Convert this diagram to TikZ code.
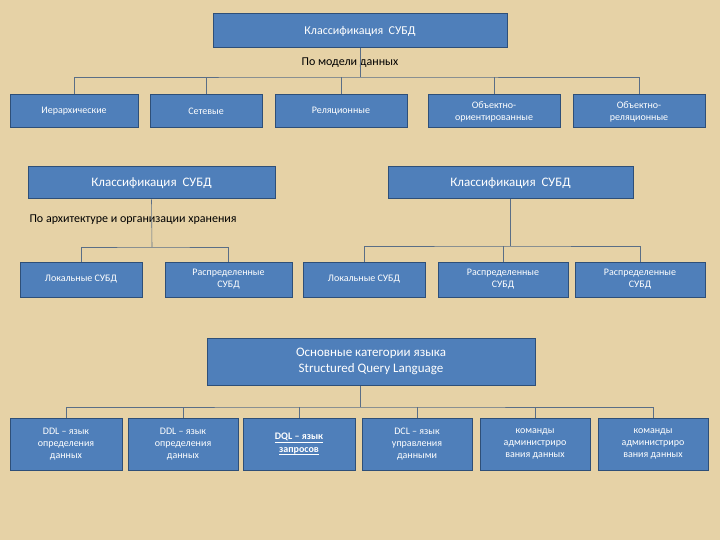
\documentclass[tikz,border=0pt]{standalone}
\usepackage{fontspec}
\setmainfont{Carlito}
\definecolor{bg}{HTML}{E6D2A6}
\definecolor{bx}{HTML}{4F7FBA}
\definecolor{bd}{HTML}{2E4F78}
\definecolor{ln}{HTML}{5A6E86}
\begin{document}
\begin{tikzpicture}[x=1pt,y=-1pt,
 bxs/.style={draw=bd,line width=1pt,fill=bx,text=white,align=center,inner sep=0pt,font=\fontsize{10}{12}\selectfont},
 big/.style={bxs,font=\fontsize{13}{15}\selectfont},
 con/.style={draw=ln,line width=0.6pt}]
\fill[bg] (0,0) rectangle (720,540);
\useasboundingbox (0,0) rectangle (720,540);
\newcommand\bxat[6]{\node[#6,minimum width=#3-#2,minimum height=#5-#4] (#1) at ({(#2+#3)/2},{(#4+#5)/2}) {};}
% top
\node[bxs,minimum width=294,minimum height=34,font=\fontsize{12}{14}\selectfont] (t) at (360,31) {Классификация\ \ СУБД};
\node[font=\fontsize{12}{14}\selectfont] (l1) at (350,63) {По модели данных};
\node[bxs,minimum width=128,minimum height=33] (a1) at (74,111.5) {Иерархические};
\node[bxs,minimum width=112,minimum height=33] (a2) at (206,111.5) {Сетевые};
\node[bxs,minimum width=132,minimum height=33] (a3) at (341,111.5) {Реляционные};
\node[bxs,minimum width=132,minimum height=33] (a4) at (494,111.5) {Объектно-\\ориентированные};
\node[bxs,minimum width=132,minimum height=33] (a5) at (639,111.5) {Объектно-\\реляционные};
\coordinate (h1) at (360,77);
\draw[con] (t.south) -- (h1);
\draw[con] (a1.north) |- (h1) -| (a5.north);
\foreach \n in {a2,a3,a4} \draw[con] (\n.north) -- (\n.north |- h1);
% row2
\node[big,minimum width=247,minimum height=32] (b) at (151.5,183) {Классификация\ \ СУБД};
\node[big,minimum width=245,minimum height=32] (c) at (510.5,183) {Классификация\ \ СУБД};
\node[font=\fontsize{12}{14}\selectfont,anchor=west] (l2) at (26,220) {По архитектуре и организации хранения};
\node[bxs,minimum width=122,minimum height=35] (b1) at (81,279.5) {Локальные СУБД};
\node[bxs,minimum width=127,minimum height=35] (b2) at (228.5,279.5) {Распределенные\\СУБД};
\node[bxs,minimum width=122,minimum height=35] (c1) at (364,279.5) {Локальные СУБД};
\node[bxs,minimum width=130,minimum height=35] (c2) at (503,279.5) {Распределенные\\СУБД};
\node[bxs,minimum width=130,minimum height=35] (c3) at (640,279.5) {Распределенные\\СУБД};
\coordinate (h2) at (152,247);
\draw[con] (b.south) -- (h2);
\draw[con] (b1.north) |- (h2) -| (b2.north);
\coordinate (h3) at (503,246);
\draw[con] (c.south) -- (c.south |- h3);
\draw[con] (c1.north) |- (h3) -| (c3.north);
\draw[con] (c2.north) -- (c2.north |- h3);
% row3
\node[bxs,minimum width=328,minimum height=47,font=\fontsize{13}{16}\selectfont] (d) at (371,361.5) {Основные категории языка\\Structured Query Language};
\node[bxs,minimum width=112,minimum height=52] (d1) at (66,444) {DDL – язык\\определения\\данных};
\node[bxs,minimum width=110,minimum height=52] (d2) at (183,444) {DDL – язык\\определения\\данных};
\node[bxs,minimum width=112,minimum height=52] (d3) at (299,444) {\textbf{\underline{DQL – язык}}\\[1pt]\textbf{\underline{\smash{запросов}}}};
\node[bxs,minimum width=110,minimum height=52] (d4) at (417,444) {DCL – язык\\управления\\данными};
\node[bxs,minimum width=110,minimum height=52] (d5) at (535,444) {команды\\администриро\\вания данных};
\node[bxs,minimum width=110,minimum height=52] (d6) at (653,444) {команды\\администриро\\вания данных};
\coordinate (h4) at (360,407);
\draw[con] (d.south -| h4) -- (h4);
\draw[con] (d1.north) |- (h4) -| (d6.north);
\foreach \n in {d2,d3,d4,d5} \draw[con] (\n.north) -- (\n.north |- h4);
\end{tikzpicture}
\end{document}
